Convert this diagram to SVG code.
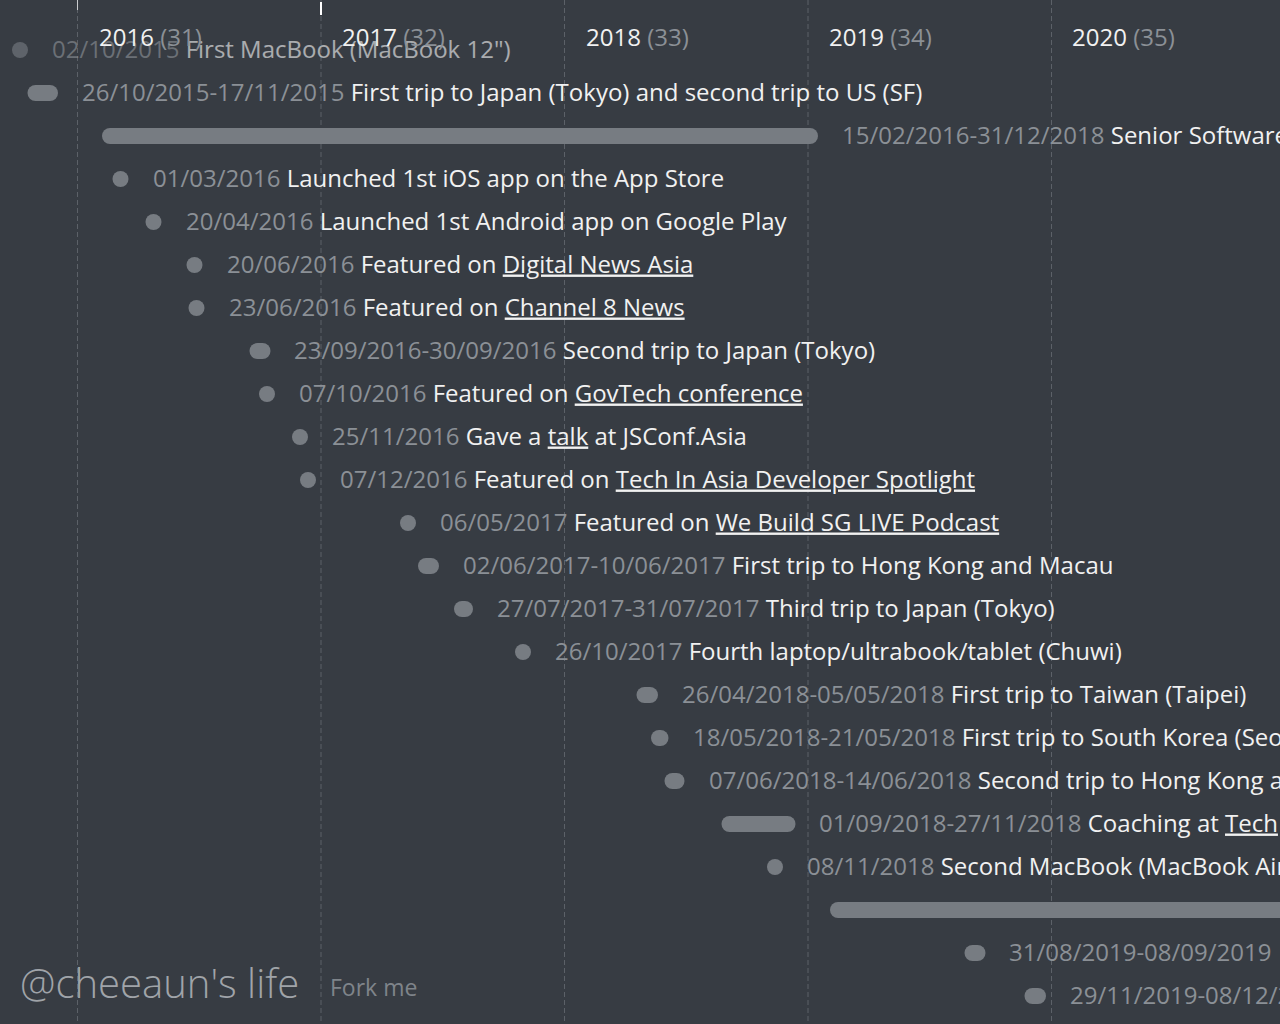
<svg xmlns="http://www.w3.org/2000/svg" width="1280" height="1024" viewBox="0 0 1280 1024">
<style>
text{font-family:"Open Sans","Noto Sans","DejaVu Sans",sans-serif;font-size:24px}
.grid line{stroke:#5c6168;stroke-width:1;stroke-dasharray:5 3}
.bar{fill:#777c82}
.d{fill:#8b9096}
.t{fill:#f1f1f1}
.a{fill:#f1f1f1;text-decoration:underline}
.yr{fill:#f1f1f1}
.ag{fill:#8b9096}
.dim{opacity:0.62}
</style>
<rect width="1280" height="1024" fill="#373c43"/>
<g id="grid" class="grid">
<line x1="77.5" y1="0" x2="77.5" y2="1024"/>
<line x1="321" y1="0" x2="321" y2="1024"/>
<line x1="564.5" y1="0" x2="564.5" y2="1024"/>
<line x1="808" y1="0" x2="808" y2="1024"/>
<line x1="1051.5" y1="0" x2="1051.5" y2="1024"/>
</g>
<g id="ticks">
<line x1="77.5" y1="0" x2="77.5" y2="10" stroke="#c9cbce" stroke-width="1"/>
<line x1="321" y1="2" x2="321" y2="15" stroke="#ffffff" stroke-width="2"/>
</g>
<g id="connectors"></g>
<g id="event-1" class="dim">
<rect class="bar" x="12" y="42" width="16" height="16" rx="8"/>
<text x="52" y="57.5" xml:space="preserve"><tspan class="d">02/10/2015</tspan><tspan class="t"> First MacBook (MacBook 12")</tspan></text>
</g>
<g id="years">
<text x="99" y="46"><tspan class="yr">2016</tspan><tspan class="ag"> (31)</tspan></text>
<text x="342" y="46"><tspan class="yr">2017</tspan><tspan class="ag"> (32)</tspan></text>
<text x="586" y="46"><tspan class="yr">2018</tspan><tspan class="ag"> (33)</tspan></text>
<text x="829" y="46"><tspan class="yr">2019</tspan><tspan class="ag"> (34)</tspan></text>
<text x="1072" y="46"><tspan class="yr">2020</tspan><tspan class="ag"> (35)</tspan></text>
</g>
<g id="event-2">
<rect class="bar" x="27.5" y="85" width="30.5" height="16" rx="8"/>
<text x="82" y="100.5" xml:space="preserve"><tspan class="d">26/10/2015-17/11/2015</tspan><tspan class="t"> First trip to Japan (Tokyo) and second trip to US (SF)</tspan></text>
</g>
<g id="event-3">
<rect class="bar" x="102" y="128" width="716" height="16" rx="8"/>
<text x="842" y="143.5" xml:space="preserve"><tspan class="d">15/02/2016-31/12/2018</tspan><tspan class="t"> Senior Software</tspan></text>
</g>
<g id="event-4">
<rect class="bar" x="112.5" y="171" width="16" height="16" rx="8"/>
<text x="153" y="186.5" xml:space="preserve"><tspan class="d">01/03/2016</tspan><tspan class="t"> Launched 1st iOS app on the App Store</tspan></text>
</g>
<g id="event-5">
<rect class="bar" x="145.5" y="214" width="16" height="16" rx="8"/>
<text x="186" y="229.5" xml:space="preserve"><tspan class="d">20/04/2016</tspan><tspan class="t"> Launched 1st Android app on Google Play</tspan></text>
</g>
<g id="event-6">
<rect class="bar" x="186.5" y="257" width="16" height="16" rx="8"/>
<text x="227" y="272.5" xml:space="preserve"><tspan class="d">20/06/2016</tspan><tspan class="t"> Featured on </tspan><tspan class="a">Digital News Asia</tspan></text>
</g>
<g id="event-7">
<rect class="bar" x="188.5" y="300" width="16" height="16" rx="8"/>
<text x="229" y="315.5" xml:space="preserve"><tspan class="d">23/06/2016</tspan><tspan class="t"> Featured on </tspan><tspan class="a">Channel 8 News</tspan></text>
</g>
<g id="event-8">
<rect class="bar" x="249.5" y="343" width="21" height="16" rx="8"/>
<text x="294" y="358.5" xml:space="preserve"><tspan class="d">23/09/2016-30/09/2016</tspan><tspan class="t"> Second trip to Japan (Tokyo)</tspan></text>
</g>
<g id="event-9">
<rect class="bar" x="259" y="386" width="16" height="16" rx="8"/>
<text x="299" y="401.5" xml:space="preserve"><tspan class="d">07/10/2016</tspan><tspan class="t"> Featured on </tspan><tspan class="a">GovTech conference</tspan></text>
</g>
<g id="event-10">
<rect class="bar" x="292" y="429" width="16" height="16" rx="8"/>
<text x="332" y="444.5" xml:space="preserve"><tspan class="d">25/11/2016</tspan><tspan class="t"> Gave a </tspan><tspan class="a">talk</tspan><tspan class="t"> at JSConf.Asia</tspan></text>
</g>
<g id="event-11">
<rect class="bar" x="300" y="472" width="16" height="16" rx="8"/>
<text x="340" y="487.5" xml:space="preserve"><tspan class="d">07/12/2016</tspan><tspan class="t"> Featured on </tspan><tspan class="a">Tech In Asia Developer Spotlight</tspan></text>
</g>
<g id="event-12">
<rect class="bar" x="400" y="515" width="16" height="16" rx="8"/>
<text x="440" y="530.5" xml:space="preserve"><tspan class="d">06/05/2017</tspan><tspan class="t"> Featured on </tspan><tspan class="a">We Build SG LIVE Podcast</tspan></text>
</g>
<g id="event-13">
<rect class="bar" x="418" y="558" width="21" height="16" rx="8"/>
<text x="463" y="573.5" xml:space="preserve"><tspan class="d">02/06/2017-10/06/2017</tspan><tspan class="t"> First trip to Hong Kong and Macau</tspan></text>
</g>
<g id="event-14">
<rect class="bar" x="454" y="601" width="19" height="16" rx="8"/>
<text x="497" y="616.5" xml:space="preserve"><tspan class="d">27/07/2017-31/07/2017</tspan><tspan class="t"> Third trip to Japan (Tokyo)</tspan></text>
</g>
<g id="event-15">
<rect class="bar" x="515" y="644" width="16" height="16" rx="8"/>
<text x="555" y="659.5" xml:space="preserve"><tspan class="d">26/10/2017</tspan><tspan class="t"> Fourth laptop/ultrabook/tablet (Chuwi)</tspan></text>
</g>
<g id="event-16">
<rect class="bar" x="636.5" y="687" width="21.5" height="16" rx="8"/>
<text x="682" y="702.5" xml:space="preserve"><tspan class="d">26/04/2018-05/05/2018</tspan><tspan class="t"> First trip to Taiwan (Taipei)</tspan></text>
</g>
<g id="event-17">
<rect class="bar" x="651" y="730" width="17.5" height="16" rx="8"/>
<text x="693" y="745.5" xml:space="preserve"><tspan class="d">18/05/2018-21/05/2018</tspan><tspan class="t"> First trip to South Korea (Seoul)</tspan></text>
</g>
<g id="event-18">
<rect class="bar" x="664.5" y="773" width="20" height="16" rx="8"/>
<text x="709" y="788.5" xml:space="preserve"><tspan class="d">07/06/2018-14/06/2018</tspan><tspan class="t"> Second trip to Hong Kong and</tspan></text>
</g>
<g id="event-19">
<rect class="bar" x="721.5" y="816" width="74" height="16" rx="8"/>
<text x="819" y="831.5" xml:space="preserve"><tspan class="d">01/09/2018-27/11/2018</tspan><tspan class="t"> Coaching at </tspan><tspan class="a">Tech</tspan></text>
</g>
<g id="event-20">
<rect class="bar" x="767" y="859" width="16" height="16" rx="8"/>
<text x="807" y="874.5" xml:space="preserve"><tspan class="d">08/11/2018</tspan><tspan class="t"> Second MacBook (MacBook Air)</tspan></text>
</g>
<g id="event-21">
<rect class="bar" x="830" y="902" width="480" height="16" rx="8"/>
</g>
<g id="event-22">
<rect class="bar" x="964.5" y="945" width="21" height="16" rx="8"/>
<text x="1009" y="960.5" xml:space="preserve"><tspan class="d">31/08/2019-08/09/2019</tspan></text>
</g>
<g id="event-23">
<rect class="bar" x="1024.5" y="988" width="21.5" height="16" rx="8"/>
<text x="1070" y="1003.5" xml:space="preserve"><tspan class="d">29/11/2019-08/12/2019</tspan></text>
</g>
<g id="footer">
<text x="20" y="998" style="font-size:40px;font-weight:300;fill:#a0a4a9">@cheeaun's life</text>
<text x="330" y="996" style="font-size:23px;fill:#7f848a">Fork me</text>
</g>
</svg>
